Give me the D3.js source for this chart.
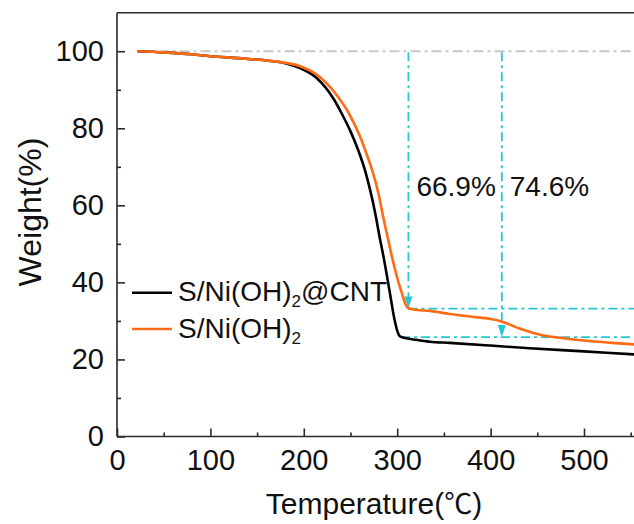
<!DOCTYPE html>
<html>
<head>
<meta charset="utf-8">
<script src="https://cdn.jsdelivr.net/npm/d3@7"></script>
<style>
  html, body { margin: 0; padding: 0; background: #fff; }
  svg { display: block; }
  text { font-family: "Liberation Sans", Arial, sans-serif; fill: #111; }
</style>
</head>
<body>
<svg id="chart" width="634" height="524"></svg>
<script>
// ---- data ----
const tempCNT = [22, 50, 80, 100, 130, 160, 180, 196, 214, 232, 240, 250, 258, 265, 271, 276, 281, 286, 292, 297, 300, 303, 310, 320, 335, 356, 400, 442, 500, 554, 600];
const weightCNT = [100, 99.7, 99.2, 98.7, 98.2, 97.6, 96.9, 95.6, 93.0, 87.6, 84.1, 79.2, 74.5, 69.5, 64.0, 58.5, 52.0, 45.8, 37.5, 30.5, 27.5, 26.0, 25.5, 25.1, 24.6, 24.3, 23.6, 22.9, 22.1, 21.3, 20.7];
const tempNi = [22, 50, 80, 100, 130, 160, 180, 196, 214, 232, 250, 260, 267, 274, 280, 285, 290, 295, 300, 305, 309, 312, 320, 335, 356, 380, 400, 410, 420, 430, 440, 450, 460, 478, 500, 530, 554, 600];
const weightNi = [100, 99.7, 99.2, 98.7, 98.2, 97.6, 97.0, 96.1, 93.9, 89.6, 83.1, 78.0, 73.5, 68.5, 63.0, 57.0, 51.5, 46.0, 41.2, 37.2, 34.3, 33.3, 32.9, 32.6, 31.8, 31.1, 30.5, 30.0, 29.1, 28.1, 27.3, 26.6, 26.1, 25.5, 24.9, 24.3, 23.9, 23.4];
const seriesNames = ["S/Ni(OH)2@CNT", "S/Ni(OH)2"];
const xTicks = [0, 100, 200, 300, 400, 500];
const xMinor = [50, 150, 250, 350, 450, 550];
const yTicks = [0, 20, 40, 60, 80, 100];
const yMinor = [10, 30, 50, 70, 90];
const refLevel = 100;
const refStart = 22;
const annotTemps = [312, 412];
const annotLevels = [33.2, 25.8];
const annotStarts = [312, 304];
const annotLabels = ["66.9%", "74.6%"];
const annotLabelY = 62.3;

// ---- layout ----
const svg = d3.select("#chart");
const x = d3.scaleLinear().domain([0, 600]).range([117, 117 + 0.934 * 600]);
const y = d3.scaleLinear().domain([0, 110]).range([436.5, 12.7]);
const xEnd = 640;
const axisColor = "#2a2a2a";
const cyan = "#22c8d2";
const orange = "#ff6a13";
const fontMain = '"Liberation Sans", Arial, sans-serif';

// reference line at 100
svg.append("line")
  .attr("x1", x(refStart)).attr("x2", xEnd)
  .attr("y1", y(refLevel)).attr("y2", y(refLevel))
  .attr("stroke", "#c8c8c8").attr("stroke-width", 1.8)
  .attr("stroke-dasharray", "10,4,3,4");

// annotation lines
annotTemps.forEach((t, i) => {
  svg.append("line")
    .attr("x1", x(t)).attr("x2", x(t))
    .attr("y1", y(refLevel) + 1).attr("y2", y(annotLevels[i]) - 10)
    .attr("stroke", cyan).attr("stroke-width", 1.8)
    .attr("stroke-dasharray", "9,4,3,4");
  svg.append("path")
    .attr("d", `M${x(t) - 4},${y(annotLevels[i]) - 12} L${x(t) + 4},${y(annotLevels[i]) - 12} L${x(t)},${y(annotLevels[i])} Z`)
    .attr("fill", cyan);
  svg.append("line")
    .attr("x1", x(annotStarts[i])).attr("x2", xEnd)
    .attr("y1", y(annotLevels[i])).attr("y2", y(annotLevels[i]))
    .attr("stroke", cyan).attr("stroke-width", 1.8)
    .attr("stroke-dasharray", "9,4,3,4");
  svg.append("text")
    .attr("x", x(t) + 8).attr("y", y(annotLabelY))
    .attr("font-size", 28)
    .text(annotLabels[i]);
});

// curves
const line = d3.line().x(d => x(d[0])).y(d => y(d[1])).curve(d3.curveMonotoneX);
svg.append("path")
  .datum(d3.zip(tempCNT, weightCNT))
  .attr("d", line).attr("fill", "none")
  .attr("stroke", "#000").attr("stroke-width", 2.6);
svg.append("path")
  .datum(d3.zip(tempNi, weightNi))
  .attr("d", line).attr("fill", "none")
  .attr("stroke", orange).attr("stroke-width", 2.6);

// axes
const xAxis = svg.append("g").attr("transform", `translate(0,${y(0)})`)
  .call(d3.axisBottom(x).tickValues(xTicks).tickSize(-8).tickPadding(13).tickFormat(d3.format("d")));
svg.append("g").attr("transform", `translate(0,${y(0)})`)
  .call(d3.axisBottom(x).tickValues(xMinor).tickSize(-4).tickFormat(""))
  .select(".domain").remove();
const yAxis = svg.append("g").attr("transform", `translate(${x(0)},0)`)
  .call(d3.axisLeft(y).tickValues(yTicks).tickSize(-8).tickPadding(13).tickFormat(d3.format("d")));
svg.append("g").attr("transform", `translate(${x(0)},0)`)
  .call(d3.axisLeft(y).tickValues(yMinor).tickSize(-4).tickFormat(""))
  .select(".domain").remove();
svg.selectAll(".domain").attr("stroke", axisColor).attr("stroke-width", 1.6);
svg.selectAll(".tick line").attr("stroke", axisColor).attr("stroke-width", 1.6);
svg.selectAll(".tick text").attr("font-size", 29).attr("font-family", fontMain).attr("fill", "#111");
xAxis.select(".domain").attr("d", `M${x(0)},0H${xEnd}`);
yAxis.select(".domain").attr("d", `M0,${y(0)}V${y(110)}`);

// top frame
svg.append("line")
  .attr("x1", x(0)).attr("x2", xEnd)
  .attr("y1", y(110)).attr("y2", y(110))
  .attr("stroke", axisColor).attr("stroke-width", 1.6);

// axis titles
const xt = svg.append("text")
  .attr("x", 374).attr("y", 514)
  .attr("text-anchor", "middle").attr("font-size", 30);
xt.append("tspan").text("Temperature(");
xt.append("tspan").attr("font-family", '"Noto Sans CJK SC", sans-serif').attr("font-size", 28).text("℃");
xt.append("tspan").text(")");

svg.append("text")
  .attr("transform", `translate(41,212) rotate(-90)`)
  .attr("text-anchor", "middle").attr("font-size", 32)
  .text("Weight(%)");

// legend
const legendColors = ["#000", orange];
const legendY = [292.7, 329];
seriesNames.forEach((name, i) => {
  svg.append("line")
    .attr("x1", 132).attr("x2", 172)
    .attr("y1", legendY[i]).attr("y2", legendY[i])
    .attr("stroke", legendColors[i]).attr("stroke-width", 2.6);
  const parts = name.split("2");
  const t = svg.append("text")
    .attr("x", 178).attr("y", legendY[i] + 8.5)
    .attr("font-size", 28);
  t.append("tspan").text(parts[0]);
  t.append("tspan").attr("font-size", 17).attr("dy", 6).text("2");
  if (parts[1]) t.append("tspan").attr("dy", -6).text(parts[1]);
});
</script>
</body>
</html>
